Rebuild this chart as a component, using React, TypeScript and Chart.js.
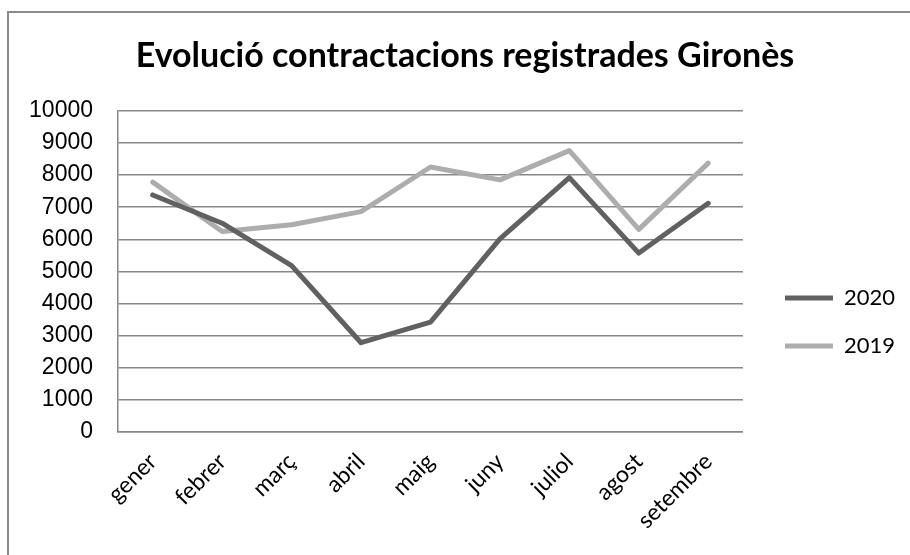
import React, { useEffect, useRef } from "react";
import { Chart, registerables } from "chart.js";

Chart.register(...registerables);

const categories = ["gener", "febrer", "març", "abril", "maig", "juny", "juliol", "agost", "setembre"];
const values2020 = [7380, 6500, 5180, 2780, 3420, 6010, 7920, 5570, 7120];
const values2019 = [7780, 6240, 6450, 6860, 8250, 7850, 8760, 6310, 8370];
const seriesNames = ["2020", "2019"];
const titleText = "Evolució contractacions registrades Gironès";

export default function App() {
  const ref = useRef<HTMLCanvasElement | null>(null);
  useEffect(() => {
    if (!ref.current) return;
    const lineStyle = {
      borderWidth: 5,
      pointRadius: 0,
      tension: 0,
      borderCapStyle: "round" as const,
      borderJoinStyle: "round" as const,
    };
    const chart = new Chart(ref.current, {
      type: "line",
      data: {
        labels: categories,
        datasets: [
          { label: seriesNames[0], data: values2020, borderColor: "#616161", backgroundColor: "#616161", ...lineStyle },
          { label: seriesNames[1], data: values2019, borderColor: "#adadad", backgroundColor: "#adadad", ...lineStyle },
        ],
      },
      options: {
        animation: false,
        responsive: false,
        layout: { padding: { left: 25, right: 5, top: 0, bottom: 0 } },
        plugins: {
          title: {
            display: true,
            text: titleText,
            color: "#000",
            font: { family: "Lato", size: 34, weight: "bold" },
            padding: { top: 36, bottom: 34 },
          },
          legend: {
            position: "right",
            title: { display: true, text: "", font: { size: 10 }, padding: { top: 77, bottom: 0 } },
            labels: {
              usePointStyle: true,
              pointStyle: "line",
              pointStyleWidth: 48,
              color: "#000",
              font: { family: "Lato", size: 22 },
              padding: 26,
            },
          },
          tooltip: { enabled: false },
        },
        scales: {
          x: {
            offset: true,
            grid: { display: false, drawTicks: false },
            border: { color: "#878787", width: 1.5 },
            ticks: {
              color: "#000",
              font: { family: "Lato", size: 23 },
              minRotation: 45,
              maxRotation: 45,
              padding: 16,
              autoSkip: false,
            },
            afterFit: (s: any) => {
              s.height = 123;
            },
          },
          y: {
            min: 0,
            max: 10000,
            grid: { color: "#878787", lineWidth: 1.5, drawTicks: false },
            border: { color: "#878787", width: 1.5 },
            ticks: {
              stepSize: 1000,
              color: "#000",
              font: { family: "Liberation Sans", size: 23 },
              padding: 25,
              callback: (v: any) => String(v),
            },
            afterFit: (s: any) => {
              s.width = 93;
            },
          },
          gap: {
            type: "linear",
            position: "right",
            display: true,
            grid: { display: false, drawTicks: false },
            border: { display: false },
            ticks: { display: false },
            afterFit: (s: any) => {
              s.width = 16;
            },
          },
        },
      },
    });
    return () => chart.destroy();
  }, []);
  return (
    <div style={{ position: "absolute", left: 0, top: 0, width: 910, height: 555, overflow: "hidden", background: "#fff" }}>
      <div
        style={{
          position: "absolute",
          left: 7,
          top: 11,
          width: 1000,
          height: 1000,
          borderLeft: "2px solid #8a8a8a",
          borderTop: "2px solid #8a8a8a",
        }}
      />
      <canvas ref={ref} width={910} height={555} style={{ position: "absolute", left: 0, top: 0 }} />
    </div>
  );
}
